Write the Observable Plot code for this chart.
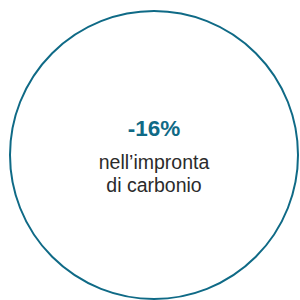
<!DOCTYPE html>
<html>
<head>
<meta charset="utf-8">
<script src="https://cdn.jsdelivr.net/npm/d3@7"></script>
<script src="https://cdn.jsdelivr.net/npm/@observablehq/plot@0.6"></script>
<style>
  html, body { margin: 0; padding: 0; background: #ffffff; }
  #chart { width: 300px; height: 300px; }
</style>
</head>
<body>
<div id="chart"></div>
<script>
const values = ["-16%"];
const labels = ["nell\u2019impronta\ndi carbonio"];

const teal = "#0f6a86";
const plot = Plot.plot({
  width: 300,
  height: 300,
  marginLeft: 7,
  marginRight: 0,
  marginTop: 9,
  marginBottom: 0,
  style: { fontFamily: "Liberation Sans, Arial, sans-serif", background: "#ffffff" },
  marks: [
    Plot.dot(values, { frameAnchor: "middle", r: 144, stroke: teal, strokeWidth: 2, fill: "none" }),
    Plot.text(values, { frameAnchor: "middle", text: d => d, lineAnchor: "bottom", dy: -19.5, fontSize: 22.5, fontWeight: "bold", fill: teal, textAnchor: "middle" }),
    Plot.text(labels, { frameAnchor: "middle", text: d => d, lineAnchor: "bottom", dy: 36.5, fontSize: 19.5, lineHeight: 1.13, fill: "#2b2b2b", textAnchor: "middle" })
  ]
});
document.getElementById("chart").appendChild(plot);
</script>
</body>
</html>
